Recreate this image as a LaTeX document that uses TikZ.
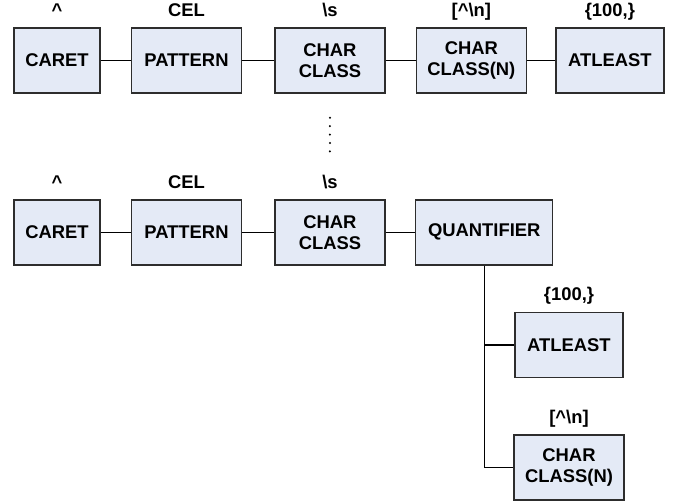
\documentclass[tikz,border=0pt]{standalone}
\usepackage{fontspec}
\setmainfont{Liberation Sans}
\usepackage{xcolor}
\usepackage{tikz}
\usetikzlibrary{positioning,calc}

\definecolor{boxfill}{RGB}{228,234,246}
\definecolor{boxline}{RGB}{45,45,45}

\begin{document}
\begin{tikzpicture}[
  node distance=22.5pt and 22.5pt,
  box/.style={rectangle, draw=boxline, fill=boxfill, line width=1.1pt,
    minimum width=82.5pt, minimum height=48.75pt, align=center,
    font=\fontsize{13.8}{15.8}\selectfont\bfseries},
  lbl/.style={inner sep=0pt, font=\fontsize{13.8}{15.8}\selectfont\bfseries},
  link/.style={line width=1.1pt, black},
]
  \useasboundingbox (0,0) rectangle (510.75pt,-375.75pt);

  % top row
  \node[box, minimum width=64.5pt] (caret1) at (42.75pt,-45.4pt) {CARET};
  \node[box, right=22.5pt of caret1] (pat1) {PATTERN};
  \node[box, right=24pt of pat1] (cc1) {CHAR\\CLASS};
  \node[box, right=22.5pt of cc1] (ccn1) {CHAR\\CLASS(N)};
  \node[box, right=21pt of ccn1, minimum width=81pt] (atl1) {ATLEAST};

  \draw[link] (caret1) -- (pat1);
  \draw[link] (pat1) -- (cc1);
  \draw[link] (cc1) -- (ccn1);
  \draw[link] (ccn1) -- (atl1);

  \node[lbl, above=8pt of caret1, anchor=base] (t1) {\textasciicircum};
  \node[lbl, above=8pt of pat1, anchor=base] (t2) {CEL};
  \node[lbl, above=8pt of cc1, anchor=base] (t3) {\textbackslash s};
  \node[lbl, above=8pt of ccn1, anchor=base] (t4) {[\textasciicircum\textbackslash n]};
  \node[lbl, above=8pt of atl1, anchor=base] (t5) {\{100,\}};

  % dots between the rows
  \foreach \i in {0,...,4}
    \fill ([yshift=-18pt-6.3pt*\i]cc1.south) circle (0.85pt);

  % second row
  \node[box, minimum width=64.5pt, below=79pt of caret1] (caret2) {CARET};
  \node[box, right=22.5pt of caret2] (pat2) {PATTERN};
  \node[box, right=24pt of pat2] (cc2) {CHAR\\CLASS};
  \node[box, right=22pt of cc2, minimum width=102.75pt] (quant) {QUANTIFIER};

  \draw[link] (caret2) -- (pat2);
  \draw[link] (pat2) -- (cc2);
  \draw[link] (cc2) -- (quant);

  \node[lbl, above=8pt of caret2, anchor=base] (u1) {\textasciicircum};
  \node[lbl, above=8pt of pat2, anchor=base] (u2) {CEL};
  \node[lbl, above=8pt of cc2, anchor=base] (u3) {\textbackslash s};

  % children of the quantifier
  \node[box, minimum width=81pt, anchor=north west] (atl2)
    at ([xshift=22.5pt, yshift=-34.5pt]quant.south) {ATLEAST};
  \node[box, below=42pt of atl2] (ccn2) {CHAR\\CLASS(N)};

  \draw[link] (quant.south) |- (atl2.west);
  \draw[link] (quant.south) |- (ccn2.west);

  \node[lbl, above=8pt of atl2, anchor=base] (u4) {\{100,\}};
  \node[lbl, above=8pt of ccn2, anchor=base] (u5) {[\textasciicircum\textbackslash n]};
\end{tikzpicture}
\end{document}
